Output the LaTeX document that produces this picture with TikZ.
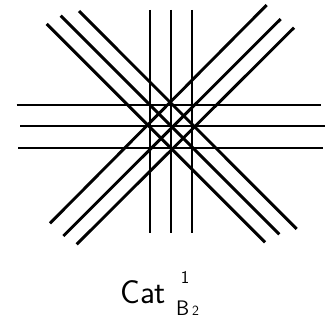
\documentclass[tikz,border=0pt]{standalone}
\usepackage{fontspec}
\begin{document}
\begin{tikzpicture}[x=1pt,y=-1pt,
  gline/.style={line width=2.9pt,black},
  lab/.style={inner sep=0pt}]
\useasboundingbox (0,0) rectangle (334,321);
% vertical lines
\draw[gline] (150,10) -- (150,233);
\draw[gline] (171,10) -- (171,233);
\draw[gline] (192,10) -- (192,233);
% horizontal lines
\draw[gline] (16.7,105) -- (321.3,105);
\draw[gline] (20,126) -- (324.7,126);
\draw[gline] (18.3,148) -- (323.3,148);
% descending diagonals
\draw[gline] (46.7,24) -- (265,242.3);
\draw[gline] (60.7,15.7) -- (279.3,234.3);
\draw[gline] (79,11) -- (296.7,229);
% ascending diagonals
\draw[gline] (50,223.3) -- (266.7,5);
\draw[gline] (63.3,236) -- (280.7,19);
\draw[gline] (76.7,244.3) -- (294,27.7);
% label
\node[lab, anchor=base west, font=\sffamily\fontsize{33}{33}\selectfont] (cat) at (120,303) {Cat};
\node[lab, anchor=base, font=\sffamily\fontsize{18}{18}\selectfont] (sup) at (185,283) {1};
\node[lab, anchor=base west, font=\sffamily\fontsize{21}{21}\selectfont] (subB) at (176,315) {B};
\node[lab, anchor=base west, font=\sffamily\fontsize{14}{14}\selectfont] (sub2) at (192,315) {2};
\end{tikzpicture}
\end{document}
